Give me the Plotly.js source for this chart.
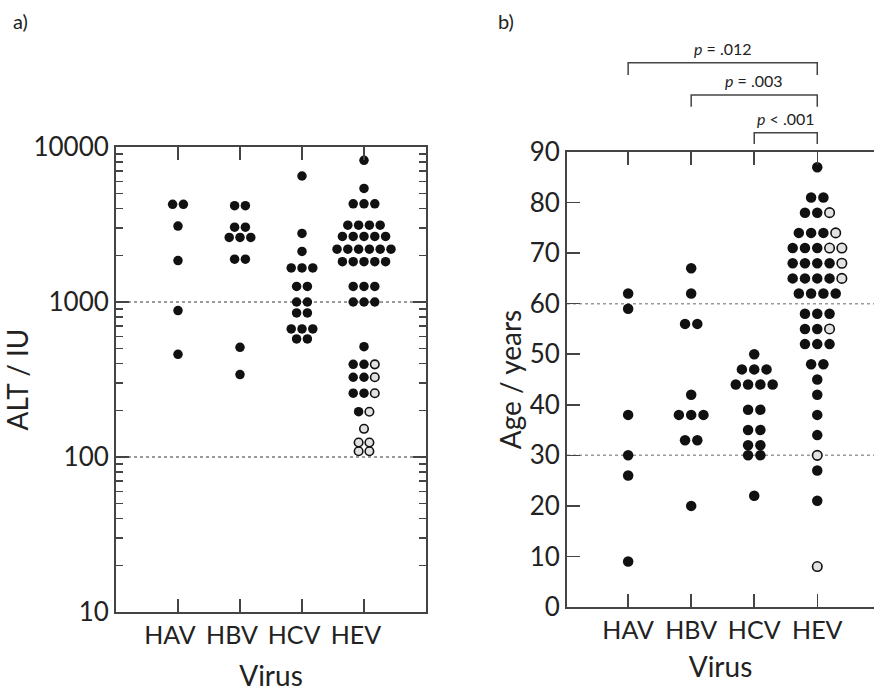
<!DOCTYPE html>
<html>
<head>
<meta charset="utf-8">
<script src="https://cdn.plot.ly/plotly-3.0.1.min.js"></script>
<style>html,body{margin:0;padding:0;background:#fff;}#chart{width:874px;height:692px;}</style>
</head>
<body>
<div id="chart"></div>
<script>
// ---- data ----
var viruses = ['HAV', 'HBV', 'HCV', 'HEV'];

// Panel a: ALT / IU
var altHAV = [4270, 4270, 3090, 1850, 880, 460];
var altHBV = [4180, 4180, 3040, 3040, 2610, 2610, 2610, 1890, 1890, 510, 340];
var altHCV = [6500, 2770, 2120, 1660, 1660, 1660, 1260, 1260, 1000, 1000, 850, 850, 670, 670, 670, 578, 578];
var altHEVfilled = [8200, 5400, 4300, 4300, 4300, 3130, 3130, 3130, 3130, 2650, 2650, 2650, 2650, 2650,
  2190, 2190, 2190, 2190, 2190, 2190, 1820, 1820, 1820, 1820, 1820, 1260, 1260, 1260, 1000, 1000, 1000,
  515, 396, 396, 327, 327, 258, 258, 196];
var altHEVopen = [396, 327, 258, 196, 152, 124, 124, 109, 109];

// Panel b: Age / years
var ageHAV = [62, 59, 38, 30, 26, 9];
var ageHBV = [67, 62, 56, 56, 42, 38, 38, 38, 33, 33, 20];
var ageHCV = [50, 47, 47, 47, 44, 44, 44, 44, 39, 39, 35, 35, 32, 32, 30, 30, 22];
var ageHEVfilled = [87, 81, 81, 78, 78, 74, 74, 74, 71, 71, 71, 68, 68, 68, 68, 65, 65, 65, 65,
  62, 62, 62, 62, 58, 58, 58, 55, 55, 52, 52, 52, 48, 48, 45, 42, 38, 34, 27, 21];
var ageHEVopen = [78, 74, 71, 71, 68, 65, 55, 30, 8];

var altTicks = [10, 100, 1000, 10000];
var ageTicks = [0, 10, 20, 30, 40, 50, 60, 70, 80, 90];

var pLabels = ['<i>p</i> = .012', '<i>p</i> = .003', '<i>p</i> < .001'];
var pFrom = [0, 1, 2];   // compared with HEV (index 3)

// ---- beeswarm layout: equal values in one group form a centred row ----
function swarm(groupIdx, filled, open, step) {
  var items = filled.map(function (v) { return {v: v, o: false}; })
    .concat(open.map(function (v) { return {v: v, o: true}; }));
  var rows = {};
  items.forEach(function (it) { (rows[it.v] = rows[it.v] || []).push(it); });
  var fx = [], fy = [], ox = [], oy = [];
  Object.keys(rows).forEach(function (k) {
    var r = rows[k];
    r.sort(function (a, b) { return (a.o ? 1 : 0) - (b.o ? 1 : 0); });
    r.forEach(function (it, i) {
      var x = groupIdx + (i - (r.length - 1) / 2) * step;
      if (it.o) { ox.push(x); oy.push(it.v); } else { fx.push(x); fy.push(it.v); }
    });
  });
  return {fx: fx, fy: fy, ox: ox, oy: oy};
}

var altGroups = [[altHAV, []], [altHBV, []], [altHCV, []], [altHEVfilled, altHEVopen]];
var ageGroups = [[ageHAV, []], [ageHBV, []], [ageHCV, []], [ageHEVfilled, ageHEVopen]];

function buildTraces(groups, step, xa, ya, size) {
  var FX = [], FY = [], OX = [], OY = [];
  groups.forEach(function (g, i) {
    var s = swarm(i, g[0], g[1], step);
    FX = FX.concat(s.fx); FY = FY.concat(s.fy); OX = OX.concat(s.ox); OY = OY.concat(s.oy);
  });
  return [
    {type: 'scatter', mode: 'markers', x: FX, y: FY, xaxis: xa, yaxis: ya,
     marker: {color: '#111', size: size, line: {width: 0}}, showlegend: false, hoverinfo: 'y'},
    {type: 'scatter', mode: 'markers', x: OX, y: OY, xaxis: xa, yaxis: ya,
     marker: {color: '#e2e2e2', size: size - 1, line: {color: '#111', width: 1.6}}, showlegend: false, hoverinfo: 'y'}
  ];
}

var traces = buildTraces(altGroups, 0.174, 'x', 'y', 9.5)
  .concat(buildTraces(ageGroups, 0.195, 'x2', 'y2', 10.5));

var W = 874, H = 692;
function px(x) { return x / W; }
function py(y) { return (H - y) / H; }

var FONT = 'Lato, "Open Sans", sans-serif';
var axisCol = '#444';

var shapes = [
  {type: 'line', xref: 'x2 domain', yref: 'y2', x0: 0, x1: 1, y0: 30, y1: 30, layer: 'below',
   line: {color: '#9a9a9a', width: 1.5, dash: '3px,3px'}},
  {type: 'line', xref: 'x2 domain', yref: 'y2', x0: 0, x1: 1, y0: 60, y1: 60, layer: 'below',
   line: {color: '#9a9a9a', width: 1.5, dash: '3px,3px'}}
];
var bracketTop = [62.7, 95, 132.7];
var bracketBot = [75, 106.7, 144];
var annotations = [
  {text: 'a)', xref: 'paper', yref: 'paper', x: px(11), y: py(21), xanchor: 'left', yanchor: 'middle',
   showarrow: false, font: {family: FONT, size: 20, color: '#222'}},
  {text: 'b)', xref: 'paper', yref: 'paper', x: px(496), y: py(21), xanchor: 'left', yanchor: 'middle',
   showarrow: false, font: {family: FONT, size: 20, color: '#222'}}
];
pFrom.forEach(function (f, i) {
  shapes.push({type: 'path', xref: 'x2', yref: 'paper',
    path: 'M ' + f + ',' + py(bracketBot[i]) + ' L ' + f + ',' + py(bracketTop[i]) +
          ' L 3,' + py(bracketTop[i]) + ' L 3,' + py(bracketBot[i]),
    line: {color: '#444', width: 1.5}});
  annotations.push({text: pLabels[i], xref: 'x2', yref: 'paper', x: (f + 3) / 2, y: py(bracketTop[i] - 3),
    xanchor: 'center', yanchor: 'bottom', showarrow: false,
    font: {family: FONT, size: 16, color: '#222'}});
});

var layout = {
  width: W, height: H,
  margin: {l: 0, r: 0, t: 0, b: 0},
  paper_bgcolor: '#fff', plot_bgcolor: '#fff',
  font: {family: FONT, color: '#222'},
  showlegend: false,
  xaxis: {
    domain: [px(116), px(426)], range: [-1, 4], anchor: 'y',
    tickvals: [0, 1, 2, 3], ticktext: viruses, ticklabelshift: -8,
    ticks: 'inside', ticklen: 13, tickwidth: 1.5, tickcolor: axisCol,
    showline: true, linecolor: axisCol, linewidth: 2, mirror: 'ticks',
    showgrid: false, zeroline: false,
    tickfont: {family: FONT, size: 25, color: '#222'},
    title: {text: 'Virus', font: {family: FONT, size: 28, color: '#222'}, standoff: 18}
  },
  yaxis: {
    domain: [py(612), py(147)], type: 'log', range: [1, 4], anchor: 'x',
    tickvals: altTicks, ticktext: altTicks.map(String),
    ticks: 'inside', ticklen: 13, tickwidth: 1.5, tickcolor: axisCol,
    minor: {ticks: 'inside', ticklen: 7, tickwidth: 1.5, tickcolor: axisCol, dtick: 'D1', showgrid: false},
    showline: true, linecolor: axisCol, linewidth: 2, mirror: 'allticks',
    showgrid: true, gridcolor: '#9a9a9a', gridwidth: 1.5, griddash: '3px,3px',
    zeroline: false,
    tickfont: {family: FONT, size: 26, color: '#222'},
    title: {text: 'ALT / IU', font: {family: FONT, size: 28, color: '#222'}, standoff: 5}
  },
  xaxis2: {
    domain: [px(567), 1], range: [-0.97, 3.9], anchor: 'y2',
    tickvals: [0, 1, 2, 3], ticktext: viruses,
    ticks: 'inside', ticklen: 13, tickwidth: 1.5, tickcolor: axisCol,
    showline: true, linecolor: axisCol, linewidth: 2, mirror: 'ticks',
    showgrid: false, zeroline: false,
    tickfont: {family: FONT, size: 25, color: '#222'},
    title: {text: 'Virus', font: {family: FONT, size: 28, color: '#222'}, standoff: 14}
  },
  yaxis2: {
    domain: [py(607), py(152)], range: [0, 90], anchor: 'x2',
    tickvals: ageTicks,
    ticks: 'inside', ticklen: 13, tickwidth: 1.5, tickcolor: axisCol,
    showline: true, linecolor: axisCol, linewidth: 2, mirror: false,
    showgrid: false, zeroline: false,
    tickfont: {family: FONT, size: 26, color: '#222'},
    title: {text: 'Age / years', font: {family: FONT, size: 28, color: '#222'}, standoff: 0}
  },
  shapes: shapes,
  annotations: annotations
};

Plotly.newPlot('chart', traces, layout, {displayModeBar: false, staticPlot: true});
</script>
</body>
</html>
